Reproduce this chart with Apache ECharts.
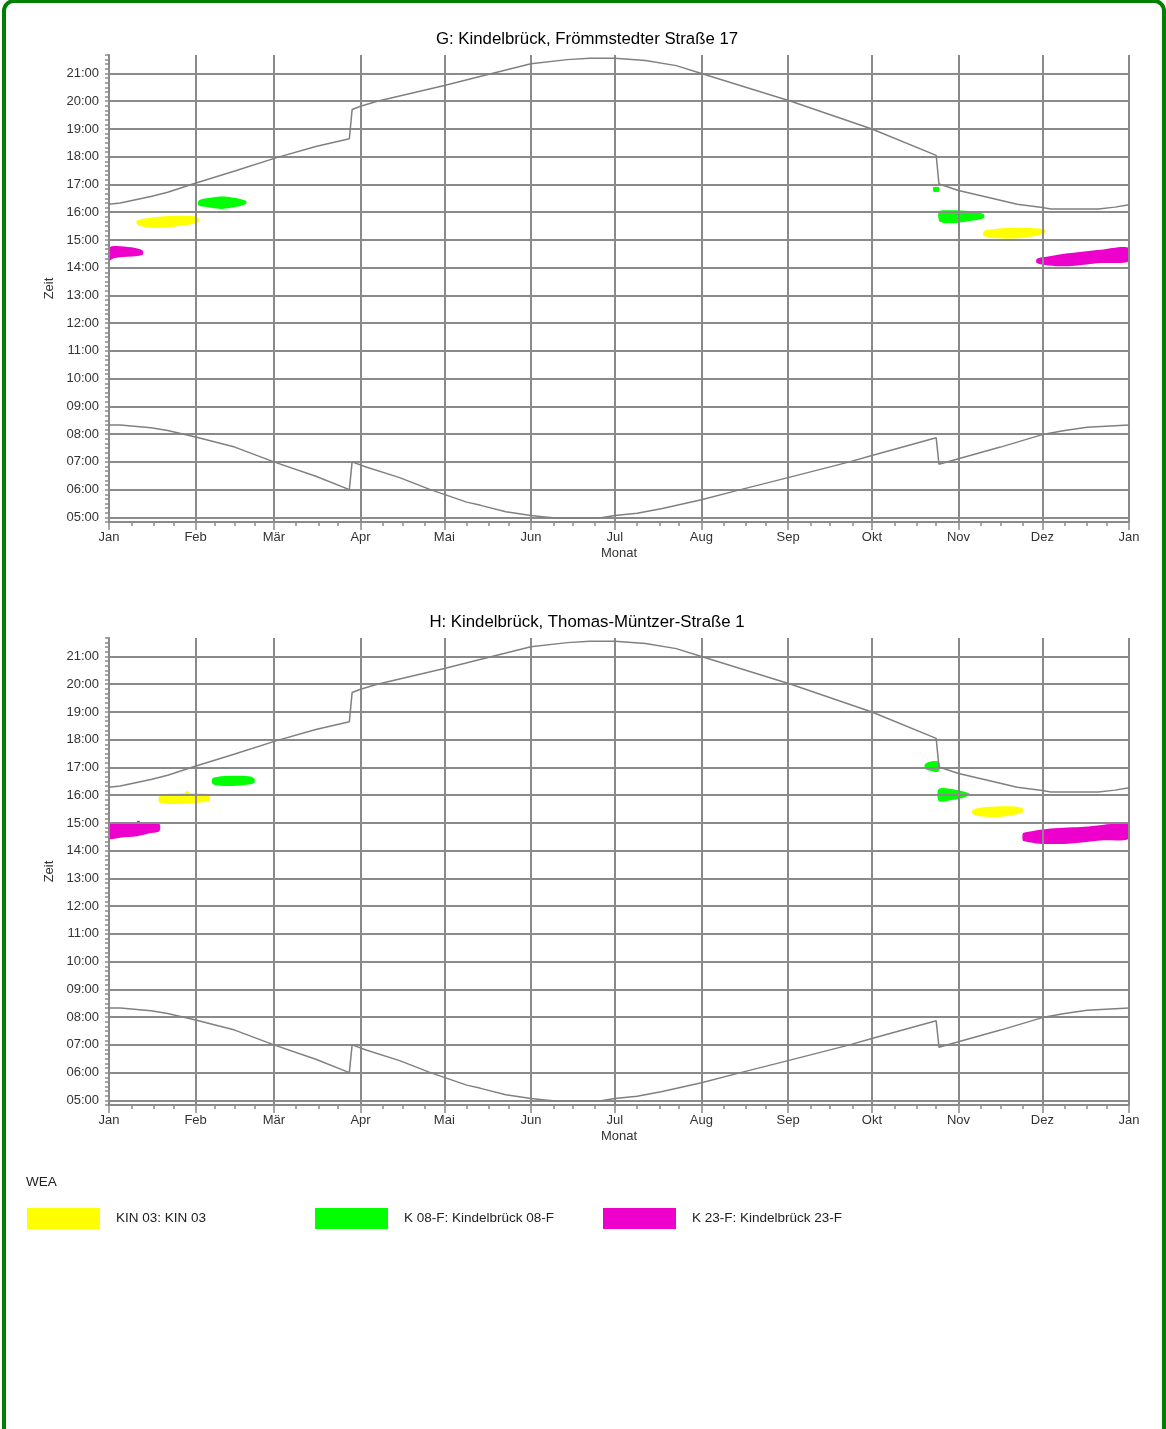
<!DOCTYPE html>
<html><head><meta charset="utf-8">
<script src="https://cdn.jsdelivr.net/npm/echarts@6/dist/echarts.min.js"></script>
<style>
html,body{margin:0;padding:0;background:#fff;width:1166px;height:1429px;overflow:hidden;}
#frame{position:absolute;left:2px;top:-1px;width:1156px;height:1500px;border:4px solid #008000;border-radius:12px;box-sizing:content-box;}
#chart{position:absolute;left:0;top:0;width:1166px;height:1429px;}
</style></head><body>
<div id="frame"></div><div id="chart"></div>
<script>
const monthNames = ['Jan','Feb','Mär','Apr','Mai','Jun','Jul','Aug','Sep','Okt','Nov','Dez','Jan'];
const monthStarts = [0,31,59,90,120,151,181,212,243,273,304,334,365];
const panelTitles = ['G: Kindelbrück, Frömmstedter Straße 17', 'H: Kindelbrück, Thomas-Müntzer-Straße 1'];
const seriesNames = ['KIN 03: KIN 03', 'K 08-F: Kindelbrück 08-F', 'K 23-F: Kindelbrück 23-F'];
const seriesColors = ['#ffff00', '#00ff00', '#ee00cc'];

// [day of year, minutes after midnight]
const sunset = [[0,977],[4,980],[15,994],[21,1003],[30,1021],[45,1049],[60,1078],[74,1102],[86,1119],[87,1182],[90,1189],[96,1200],[120,1234],[137,1260],[151,1281],[164,1290],[172,1293],[181,1293],[192,1288],[203,1277],[212,1260],[244,1200],[273,1140],[296,1083],[297,1021],[304,1007],[314,993],[325,977],[334,970],[337,967],[354,967],[360,971],[365,976]];
const sunrise = [[0,500],[4,500],[15,494],[21,488],[31,474],[45,452],[59,420],[74,389],[86,360],[87,420],[92,409],[104,386],[115,360],[128,333],[133,326],[142,312],[151,304],[156,301],[161,298],[175,298],[181,304],[189,309],[198,319],[212,338],[226,360],[243,386],[265,420],[273,434],[296,472],[297,415],[303,425],[319,452],[334,479],[342,488],[350,495],[365,500]];

// shadow periods, outlines [day, minutes]
const gKin03 = [
  [[10,942],[16,949],[21,952],[31,951],[32,947],[32,938],[25,930],[17,926],[11,930],[10,934]],
  [[313,919],[316,923],[321,926],[330,926],[335,922],[335,916],[331,908],[324,903],[316,904],[313,909]]
];
const gK08 = [
  [[32,985],[35,990],[40,994],[44,992],[49,985],[49,978],[44,970],[40,967],[35,971],[32,975]],
  [[295,1005],[295,1014],[297,1014],[297,1005]],
  [[297,962],[301,964],[308,962],[313,956],[313,947],[308,941],[302,936],[298,938],[297,942]]
];
const gK23 = [
  [[0,884],[8,884],[12,877],[12,868],[8,864],[2,861],[0,856]],
  [[332,859],[336,864],[343,871],[355,879],[365,883],[365,854],[355,850],[343,843],[336,845],[332,850]]
];
const hKin03 = [
  [[18,957],[21,963],[27,965],[28,969],[29,965],[35,963],[36,958],[36,948],[31,943],[24,941],[18,945]],
  [[309,928],[312,933],[319,936],[325,935],[327,931],[327,923],[324,918],[318,913],[311,915],[309,920]]
];
const hK08 = [
  [[37,996],[39,1000],[44,1002],[50,1001],[52,996],[52,987],[50,983],[44,980],[39,981],[37,985]],
  [[292,1027],[294,1033],[297,1032],[297,1012],[295,1011],[292,1017]],
  [[297,974],[303,972],[308,963],[306,955],[302,950],[297,947]]
];
const hK23 = [
  [[0,898],[10,898],[10,904],[11,904],[11,898],[18,898],[18,882],[15,878],[10,871],[4,868],[0,866]],
  [[327,877],[328,880],[337,888],[349,892],[365,897],[365,866],[355,862],[343,855],[333,855],[328,860],[327,862]]
];
const panelBlobs = [[gKin03, gK08, gK23], [hKin03, hK08, hK23]];

const FONT = 'Liberation Sans, Arial, sans-serif';
const GRID = '#8a8a8a';
const days = [];
for (let i = 0; i <= 365; i++) days.push(String(i));
const quarterTicks = new Set();
for (let m = 0; m < 12; m++) {
  const s = monthStarts[m], L = monthStarts[m+1] - s;
  for (let k = 1; k <= 3; k++) quarterTicks.add(s + Math.round(L * k / 4));
}
const isMonth = (idx) => monthStarts.indexOf(idx) >= 0;
const gridTops = [55, 638];

function flatten(blobs) {
  const out = [];
  blobs.forEach((b, id) => b.forEach(p => out.push([p[0], p[1], id])));
  return out;
}
function renderBlob(params, api) {
  const i = params.dataIndexInside;
  const id = api.value(2, i);
  if (i > 0 && api.value(2, i - 1) === id) return null;
  const pts = [];
  for (let k = i; k < params.dataInsideLength && api.value(2, k) === id; k++) {
    pts.push(api.coord([api.value(0, k), api.value(1, k)]));
  }
  return { type: 'polygon', shape: { points: pts, smooth: 0.3 }, style: { fill: api.visual('color') } };
}
const hhmm = v => (v % 60 === 0) ? String(Math.floor(v / 60)).padStart(2, '0') + ':00' : '';
const splitColors = ['rgba(0,0,0,0)', GRID, 'rgba(0,0,0,0)', 'rgba(0,0,0,0)', 'rgba(0,0,0,0)', 'rgba(0,0,0,0)'];

const option = {
  animation: false,
  backgroundColor: 'transparent',
  textStyle: { fontFamily: FONT },
  title: [
    ...panelTitles.map((t, i) => ({ text: t, left: 587, textAlign: 'center', top: gridTops[i] - 24, padding: 0,
      textStyle: { fontSize: 16.8, fontWeight: 'normal', color: '#000', fontFamily: FONT } })),
    { text: 'WEA', left: 26, top: 1175, padding: 0, textStyle: { fontSize: 13.5, fontWeight: 'normal', color: '#222', fontFamily: FONT } }
  ],
  legend: seriesNames.map((n, i) => ({
    data: [n], left: [27, 315, 603][i], top: 1208, padding: 0, itemWidth: 73, itemHeight: 21, icon: 'rect',
    selectedMode: false, textStyle: { fontSize: 13.5, color: '#222', fontFamily: FONT, padding: [0, 0, 0, 11] }
  })),
  grid: gridTops.map(t => ({ left: 109, top: t, width: 1020, height: 467 })),
  xAxis: [],
  yAxis: [],
  series: []
};

gridTops.forEach((t, g) => {
  option.xAxis.push({
    type: 'category', gridIndex: g, data: days, boundaryGap: false, position: 'bottom',
    name: 'Monat', nameLocation: 'middle', nameGap: 25,
    nameTextStyle: { fontSize: 13, color: '#333', fontFamily: FONT },
    axisLine: { show: true, lineStyle: { color: GRID, width: 2 } },
    axisTick: { show: true, interval: (idx) => isMonth(idx), length: 8, lineStyle: { color: GRID, width: 1.5 } },
    axisLabel: { show: true, interval: (idx) => isMonth(idx), margin: 9, fontSize: 13, color: '#333', fontFamily: FONT,
      formatter: (v, idx) => { const m = monthStarts.indexOf(Number(v)); return m >= 0 ? monthNames[m] : ''; } },
    splitLine: { show: true, interval: (idx) => isMonth(idx), lineStyle: { color: GRID, width: 2 } }
  });
  option.xAxis.push({
    type: 'category', gridIndex: g, data: days, boundaryGap: false, position: 'bottom',
    axisLine: { show: false },
    axisTick: { show: true, interval: (idx) => quarterTicks.has(idx), length: 4, lineStyle: { color: GRID, width: 1.5 } },
    axisLabel: { show: false }, splitLine: { show: false }
  });
  option.yAxis.push({
    type: 'value', gridIndex: g, min: 290, max: 1300, interval: 10,
    name: 'Zeit', nameLocation: 'middle', nameGap: 52,
    nameTextStyle: { fontSize: 13, color: '#333', fontFamily: FONT },
    axisLine: { show: true, lineStyle: { color: GRID, width: 2 } },
    axisTick: { show: true, length: 4, lineStyle: { color: GRID, width: 1.5 } },
    axisLabel: { formatter: hhmm, margin: 10, fontSize: 13, color: '#333', fontFamily: FONT },
    splitLine: { show: true, showMinLine: true, showMaxLine: true, lineStyle: { color: splitColors, width: 2 } }
  });
  const xi = g * 2;
  [sunset, sunrise].forEach((d, k) => option.series.push({
    type: 'line', name: k ? 'Sonnenaufgang' : 'Sonnenuntergang', xAxisIndex: xi, yAxisIndex: g, data: d,
    symbol: 'none', silent: true, lineStyle: { color: '#808080', width: 1.5 }, z: 3
  }));
  panelBlobs[g].forEach((blobs, s) => option.series.push({
    type: 'custom', name: seriesNames[s], xAxisIndex: xi, yAxisIndex: g,
    dimensions: ['x', 'y', 'blob'], encode: { x: 0, y: 1 },
    data: flatten(blobs), renderItem: renderBlob, clip: true, z: -1, silent: true,
    itemStyle: { color: seriesColors[s] }
  }));
});

const chart = echarts.init(document.getElementById('chart'), null, { renderer: 'canvas' });
chart.setOption(option);
</script></body></html>
